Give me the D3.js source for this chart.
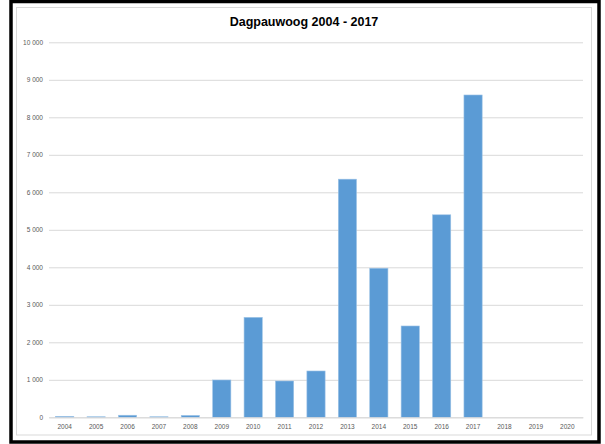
<!DOCTYPE html>
<html>
<head>
<meta charset="utf-8">
<script src="https://cdn.jsdelivr.net/npm/d3@7"></script>
<style>
  html, body { margin: 0; padding: 0; background: #fff; }
  svg { display: block; }
</style>
</head>
<body>
<svg id="chart"></svg>
<script>
// Data
const years = ['2004', '2005', '2006', '2007', '2008', '2009', '2010', '2011', '2012',
  '2013', '2014', '2015', '2016', '2017', '2018', '2019', '2020'];
const counts = [25, 15, 55, 15, 50, 995, 2665, 968, 1235, 6350, 3975, 2435, 5400, 8595, 0, 0, 0];
const yTicks = [0, 1000, 2000, 3000, 4000, 5000, 6000, 7000, 8000, 9000, 10000];
const title = 'Dagpauwoog 2004 - 2017';

const width = 605, height = 444;
const margin = { top: 42.3, right: 22, bottom: 26.7, left: 49 };

const svg = d3.select('#chart')
  .attr('width', width)
  .attr('height', height)
  .attr('viewBox', `0 0 ${width} ${height}`);

// Outer black frame
svg.append('rect')
  .attr('x', 11).attr('y', 1.5)
  .attr('width', 588).attr('height', 440.5)
  .attr('fill', '#fff')
  .attr('stroke', '#000')
  .attr('stroke-width', 3.5);

// Chart area border
svg.append('rect')
  .attr('x', 16.5).attr('y', 7.5)
  .attr('width', 575).attr('height', 427.5)
  .attr('fill', '#fff')
  .attr('stroke', '#d9d9d9')
  .attr('stroke-width', 1);

const x = d3.scaleBand()
  .domain(years)
  .range([margin.left, width - margin.right])
  .paddingInner(0.42)
  .paddingOuter(0.21);

const y = d3.scaleLinear()
  .domain([0, 10000])
  .range([height - margin.bottom, margin.top]);

const fmt = d3.formatLocale({ decimal: ',', thousands: '\u2009', grouping: [3], currency: ['', ''] }).format(',');

// Title
svg.append('text')
  .attr('x', 304)
  .attr('y', 26)
  .attr('text-anchor', 'middle')
  .attr('font-family', 'Liberation Sans, Arial, sans-serif')
  .attr('font-size', '12.5px')
  .attr('font-weight', '700')
  .attr('fill', '#000')
  .text(title);

// Gridlines + y labels
const yAxis = svg.append('g')
  .attr('transform', `translate(${margin.left},0)`)
  .call(d3.axisLeft(y).tickValues(yTicks).tickFormat(d => fmt(d).replace('\u2009', ' '))
    .tickSize(-(width - margin.left - margin.right)).tickPadding(6));
yAxis.select('.domain').remove();
yAxis.selectAll('line').attr('stroke', '#d9d9d9').attr('stroke-width', 1);
yAxis.selectAll('text')
  .attr('font-family', 'Liberation Sans, Arial, sans-serif')
  .attr('font-size', '6.5px')
  .attr('fill', '#595959');

// Bars
svg.append('g')
  .selectAll('rect')
  .data(years.map((yr, i) => ({ yr, v: counts[i] })).filter(d => d.v > 0))
  .join('rect')
  .attr('x', d => x(d.yr))
  .attr('y', d => y(d.v))
  .attr('width', x.bandwidth())
  .attr('height', d => y(0) - y(d.v))
  .attr('fill', '#5b9bd5')
  .attr('stroke', '#9dc3e6')
  .attr('stroke-width', 0.6);

// X axis
const xAxis = svg.append('g')
  .attr('transform', `translate(0,${y(0)})`)
  .call(d3.axisBottom(x).tickSize(0).tickPadding(7));
xAxis.select('.domain').attr('stroke', '#d9d9d9');
xAxis.selectAll('text')
  .attr('font-family', 'Liberation Sans, Arial, sans-serif')
  .attr('font-size', '6.5px')
  .attr('fill', '#595959');
</script>
</body>
</html>
